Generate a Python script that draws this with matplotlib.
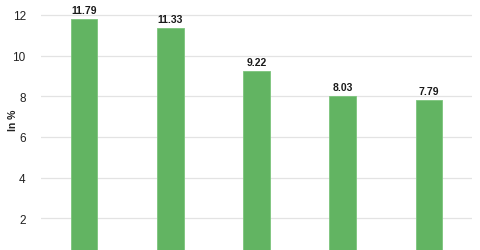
import matplotlib
matplotlib.use("Agg")
import matplotlib.pyplot as plt

# data
categories = ["A", "B", "C", "D", "E"]
values = [11.79, 11.33, 9.22, 8.03, 7.79]
value_labels = ["11.79", "11.33", "9.22", "8.03", "7.79"]
yticks = [2, 4, 6, 8, 10, 12]

plt.rcParams["font.family"] = ["Liberation Sans", "DejaVu Sans"]

fig = plt.figure(figsize=(4.8, 2.51), dpi=100)
ax = fig.add_axes([41 / 480, 0, 431 / 480, 1])

x = range(len(categories))
ax.bar(x, values, width=0.31, color="#62b462", edgecolor="#7cc47c",
       linewidth=0.6, zorder=2)

for i, (v, lab) in enumerate(zip(values, value_labels)):
    ax.text(i, v + 0.2, lab, ha="center", va="bottom",
            fontsize=7.5, fontweight="bold", color="#1a1a1a")

ax.set_xlim(-0.5, len(categories) - 0.5)
ax.set_ylim(0.44, 12.78)
ax.set_yticks(yticks)
ax.set_yticklabels([str(t) for t in yticks], fontsize=8.5, color="#222222")
ax.set_xticks([])
ax.yaxis.grid(True, color="#e3e3e3", linewidth=0.9, zorder=0)
ax.tick_params(axis="y", length=0, pad=11)
for s in ax.spines.values():
    s.set_visible(False)

fig.text(13 / 480, 1 - 120 / 251, "In %", rotation=90, ha="center", va="center",
         fontsize=7.5, fontweight="bold", color="#222222")

fig.savefig("out.png", dpi=100)
